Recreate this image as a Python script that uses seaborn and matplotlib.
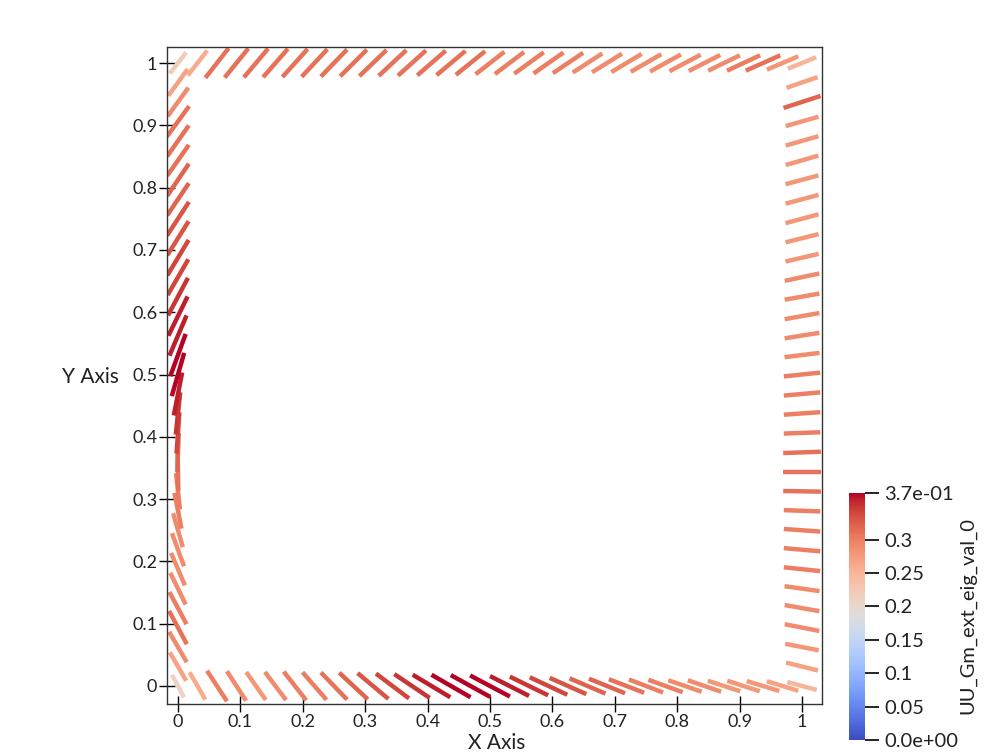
import numpy as np
import pandas as pd
import matplotlib
matplotlib.use("Agg")
import matplotlib.pyplot as plt
import seaborn as sns
from matplotlib.collections import LineCollection
from matplotlib.colors import Normalize
from matplotlib.ticker import FuncFormatter

# mesh nodes along each edge of the unit square
edge_nodes = np.linspace(0.0, 1.0, 33)

# bottom edge (y = 0), x = 0 .. 1
bottom_angle = [-62, -60, -57, -57, -55, -53, -52, -49, -46, -43, -40, -37, -34, -31, -30, -29,
                -28, -27, -26, -25, -24, -23, -22, -21, -21, -20, -19, -19, -18, -18, -17, -17, -15]
bottom_val = [0.21, 0.26, 0.30, 0.29, 0.28, 0.29, 0.30, 0.30, 0.31, 0.32, 0.33, 0.34, 0.35, 0.36, 0.37, 0.37,
              0.37, 0.36, 0.35, 0.34, 0.33, 0.32, 0.32, 0.31, 0.30, 0.30, 0.29, 0.29, 0.28, 0.28, 0.28, 0.27, 0.25]

# top edge (y = 1), x = 0 .. 1
top_angle = [52, 52, 52, 51, 50, 49, 48, 47, 46, 45, 44, 43, 42, 41, 40, 39,
             38, 37, 36, 35, 34, 33, 32, 31, 30, 29, 28, 27, 26, 25, 24, 23, 22]
top_val = [0.22, 0.26, 0.31, 0.31, 0.31, 0.31, 0.31, 0.31, 0.31, 0.31, 0.31, 0.31, 0.31, 0.31, 0.31, 0.31,
           0.30, 0.30, 0.30, 0.30, 0.30, 0.29, 0.29, 0.29, 0.29, 0.29, 0.29, 0.29, 0.29, 0.30, 0.31, 0.28, 0.25]

# left edge (x = 0), interior nodes y = 1/32 .. 31/32
left_angle = [-60, -60, -62, -62, -64, -67, -70, -74, -79, -84, -89, 88, 86, 84, 79, 74,
              70, 67, 64, 62, 60, 59, 58, 57, 56, 56, 55, 55, 54, 54, 54]
left_val = [0.27, 0.29, 0.31, 0.30, 0.29, 0.29, 0.29, 0.29, 0.30, 0.30, 0.31, 0.32, 0.34, 0.35, 0.36, 0.37,
            0.37, 0.36, 0.36, 0.35, 0.34, 0.34, 0.33, 0.33, 0.32, 0.32, 0.31, 0.31, 0.31, 0.29, 0.27]

# right edge (x = 1), interior nodes y = 1/32 .. 31/32
right_angle = [-14, -11, -11, -10, -8, -6, -5, -4, -2, -1, 0, 2, 2, 4, 5, 6,
               7, 9, 10, 10, 12, 13, 14, 15, 15, 15, 16, 16, 16, 18, 19]
right_val = [0.27, 0.28, 0.29, 0.29, 0.29, 0.30, 0.30, 0.30, 0.30, 0.31, 0.31, 0.31, 0.30, 0.30, 0.30, 0.30,
             0.29, 0.29, 0.29, 0.29, 0.29, 0.28, 0.28, 0.28, 0.28, 0.28, 0.28, 0.28, 0.28, 0.32, 0.27]

vmin, vmax = 0.0, 0.37
glyph_scale = 0.195

inner = edge_nodes[1:-1]
df = pd.concat([
    pd.DataFrame({'x': edge_nodes, 'y': 0.0, 'angle': bottom_angle, 'val': bottom_val}),
    pd.DataFrame({'x': 1.0, 'y': inner, 'angle': right_angle, 'val': right_val}),
    pd.DataFrame({'x': edge_nodes, 'y': 1.0, 'angle': top_angle, 'val': top_val}),
    pd.DataFrame({'x': 0.0, 'y': inner, 'angle': left_angle, 'val': left_val}),
], ignore_index=True)

# line glyphs centred on the nodes, length scaled by the value
half = 0.5 * glyph_scale * df['val'].to_numpy()
rad = np.deg2rad(df['angle'].to_numpy())
x0 = df['x'].to_numpy() - half * np.cos(rad)
x1 = df['x'].to_numpy() + half * np.cos(rad)
y0 = df['y'].to_numpy() - half * np.sin(rad)
y1 = df['y'].to_numpy() + half * np.sin(rad)
segs = np.stack([np.column_stack([x0, y0]), np.column_stack([x1, y1])], axis=1)

sns.set_theme(style="white")
plt.rcParams['font.family'] = ['Lato', 'DejaVu Sans']

cmap = sns.color_palette("coolwarm", as_cmap=True)
norm = Normalize(vmin=vmin, vmax=vmax)

fig = plt.figure(figsize=(9.87, 7.54), dpi=100)
ax = fig.add_axes([167 / 987, 50 / 754, 655 / 987, 657 / 754])

lc = LineCollection(segs, array=df['val'].to_numpy(), cmap=cmap, norm=norm,
                    linewidths=3.2, capstyle='butt')
ax.add_collection(lc)

ax.set_xlim(-0.0176, 1.032)
ax.set_ylim(-0.0289, 1.0257)
ax.set_xticks(np.round(np.arange(0, 1.01, 0.1), 1))
ax.set_yticks(np.round(np.arange(0, 1.01, 0.1), 1))
fmt = FuncFormatter(lambda v, p: '%g' % v)
ax.xaxis.set_major_formatter(fmt)
ax.yaxis.set_major_formatter(fmt)
ax.tick_params(axis='both', direction='inout', length=12, width=1, color='black',
               labelsize=13, labelcolor='#222222', bottom=True, left=True, pad=1)
for sp in ax.spines.values():
    sp.set_color('#333333')
    sp.set_linewidth(1.0)

fig.text(497 / 987, 11 / 754, 'X Axis', ha='center', va='center', fontsize=15, color='#222222')
fig.text(90 / 987, 377 / 754, 'Y Axis', ha='center', va='center', fontsize=15, color='#222222')

# colour legend
cax = fig.add_axes([849 / 987, 14 / 754, 16 / 987, 247 / 754])
cb = fig.colorbar(plt.cm.ScalarMappable(norm=norm, cmap=cmap), cax=cax)
cb.outline.set_visible(False)
cb_ticks = [0.0, 0.05, 0.1, 0.15, 0.2, 0.25, 0.3, 0.37]
cb_labels = ['0.0e+00', '0.05', '0.1', '0.15', '0.2', '0.25', '0.3', '3.7e-01']
cb.set_ticks(cb_ticks)
cb.set_ticklabels(cb_labels)
cax.tick_params(axis='y', direction='out', length=10, width=1.2, color='black',
                labelsize=14.5, labelcolor='#222222', right=True, pad=4)
fig.text(968 / 987, 139 / 754, 'UU_Gm_ext_eig_val_0', rotation=90, ha='center', va='center',
         fontsize=14.5, color='#222222')

fig.savefig('out.png', dpi=100)
